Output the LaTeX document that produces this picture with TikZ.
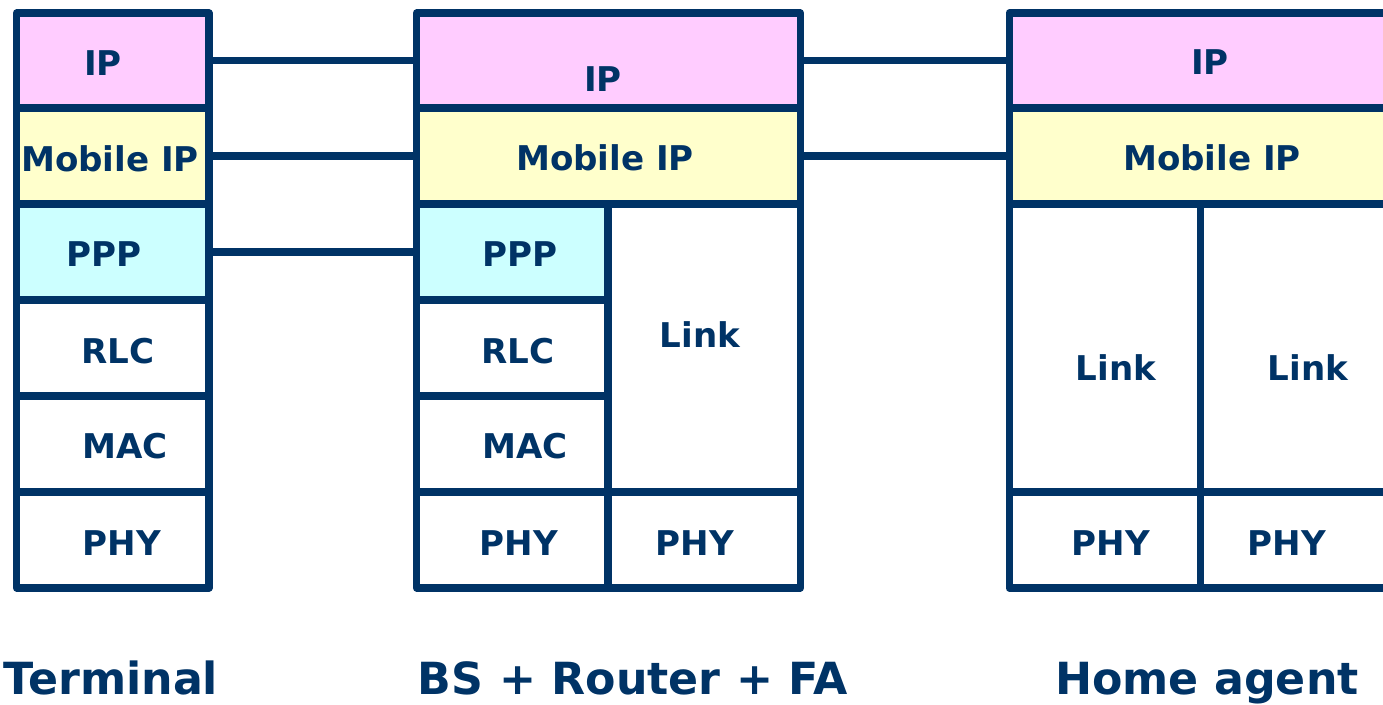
\documentclass[tikz,border=0pt]{standalone}
\usepackage{fontspec}
\setmainfont{DejaVu Sans}
\usetikzlibrary{fit}
\definecolor{StackBlue}{RGB}{0,51,102}
\definecolor{IPColor}{RGB}{255,204,255}
\definecolor{MobileColor}{RGB}{255,255,204}
\definecolor{PPPColor}{RGB}{204,255,255}
\tikzset{
  layer/.style={draw=StackBlue, line width=2pt, line join=round, inner sep=0pt, rectangle},
  lbl/.style={text=StackBlue, font=\bfseries\fontsize{9.7}{11}\selectfont, inner sep=0pt, text height=7.07pt, text depth=0pt},
  title/.style={text=StackBlue, font=\bfseries\fontsize{12.6}{15}\selectfont, inner sep=0pt, anchor=base},
  wire/.style={draw=StackBlue, line width=2pt}
}

\begin{document}
\begin{tikzpicture}[x=1cm, y=-1cm]
  \useasboundingbox (0,0) rectangle (13.83,7.05);
  \clip (0,0) rectangle (13.83,7.05);

  % terminal stack
  \node[layer, fill=IPColor, fit={(0.165,0.13) (2.09,1.08)}] (tIP) {};
  \node[layer, fill=MobileColor, fit={(0.165,1.08) (2.09,2.04)}] (tMIP) {};
  \node[layer, fill=PPPColor, fit={(0.165,2.04) (2.09,3.00)}] (tPPP) {};
  \node[layer, fit={(0.165,3.00) (2.09,3.96)}] (tRLC) {};
  \node[layer, fit={(0.165,3.96) (2.09,4.92)}] (tMAC) {};
  \node[layer, fit={(0.165,4.92) (2.09,5.88)}] (tPHY) {};
  \node[lbl] (tIPtxt) at (1.03,0.63) {IP};
  \node[lbl] (tMIPtxt) at (1.10,1.59) {Mobile IP};
  \node[lbl] (tPPPtxt) at (1.04,2.54) {PPP};
  \node[lbl] (tRLCtxt) at (1.18,3.51) {RLC};
  \node[lbl] (tMACtxt) at (1.25,4.46) {MAC};
  \node[lbl] (tPHYtxt) at (1.22,5.43) {PHY};

  % base station + router + foreign agent
  \node[layer, fill=IPColor, fit={(4.165,0.13) (8.005,1.08)}] (bIP) {};
  \node[layer, fill=MobileColor, fit={(4.165,1.08) (8.005,2.04)}] (bMIP) {};
  \node[layer, fill=PPPColor, fit={(4.165,2.04) (6.08,3.00)}] (bPPP) {};
  \node[layer, fit={(4.165,3.00) (6.08,3.96)}] (bRLC) {};
  \node[layer, fit={(4.165,3.96) (6.08,4.92)}] (bMAC) {};
  \node[layer, fit={(4.165,4.92) (6.08,5.88)}] (bPHYa) {};
  \node[layer, fit={(6.08,2.04) (8.005,4.92)}] (bLink) {};
  \node[layer, fit={(6.08,4.92) (8.005,5.88)}] (bPHYb) {};
  \node[lbl] (bIPtxt) at (6.03,0.79) {IP};
  \node[lbl] (bMIPtxt) at (6.05,1.58) {Mobile IP};
  \node[lbl] (bPPPtxt) at (5.20,2.54) {PPP};
  \node[lbl] (bRLCtxt) at (5.18,3.51) {RLC};
  \node[lbl] (bMACtxt) at (5.25,4.46) {MAC};
  \node[lbl] (bPHYatxt) at (5.19,5.43) {PHY};
  \node[lbl] (bLinktxt) at (7.00,3.35) {Link};
  \node[lbl] (bPHYbtxt) at (6.95,5.43) {PHY};

  % home agent
  \node[layer, fill=IPColor, fit={(10.09,0.13) (13.94,1.08)}] (hIP) {};
  \node[layer, fill=MobileColor, fit={(10.09,1.08) (13.94,2.04)}] (hMIP) {};
  \node[layer, fit={(10.09,2.04) (12.005,4.92)}] (hLinka) {};
  \node[layer, fit={(12.005,2.04) (13.94,4.92)}] (hLinkb) {};
  \node[layer, fit={(10.09,4.92) (12.005,5.88)}] (hPHYa) {};
  \node[layer, fit={(12.005,4.92) (13.94,5.88)}] (hPHYb) {};
  \node[lbl] (hIPtxt) at (12.10,0.62) {IP};
  \node[lbl] (hMIPtxt) at (12.12,1.58) {Mobile IP};
  \node[lbl] (hLinkatxt) at (11.16,3.68) {Link};
  \node[lbl] (hLinkbtxt) at (13.08,3.68) {Link};
  \node[lbl] (hPHYatxt) at (11.11,5.43) {PHY};
  \node[lbl] (hPHYbtxt) at (12.87,5.43) {PHY};

  % peer links
  \draw[wire] (tIP.east) -- (bIP.west);
  \draw[wire] (tMIP.east) -- (bMIP.west);
  \draw[wire] (tPPP.east) -- (bPPP.west);
  \draw[wire] (bIP.east) -- (hIP.west);
  \draw[wire] (bMIP.east) -- (hMIP.west);

  % captions
  \node[title] (termcap) at (1.11,6.95) {Terminal};
  \node[title] (bscap) at (6.33,6.95) {BS + Router + FA};
  \node[title] (hacap) at (12.07,6.95) {Home agent};
\end{tikzpicture}
\end{document}
